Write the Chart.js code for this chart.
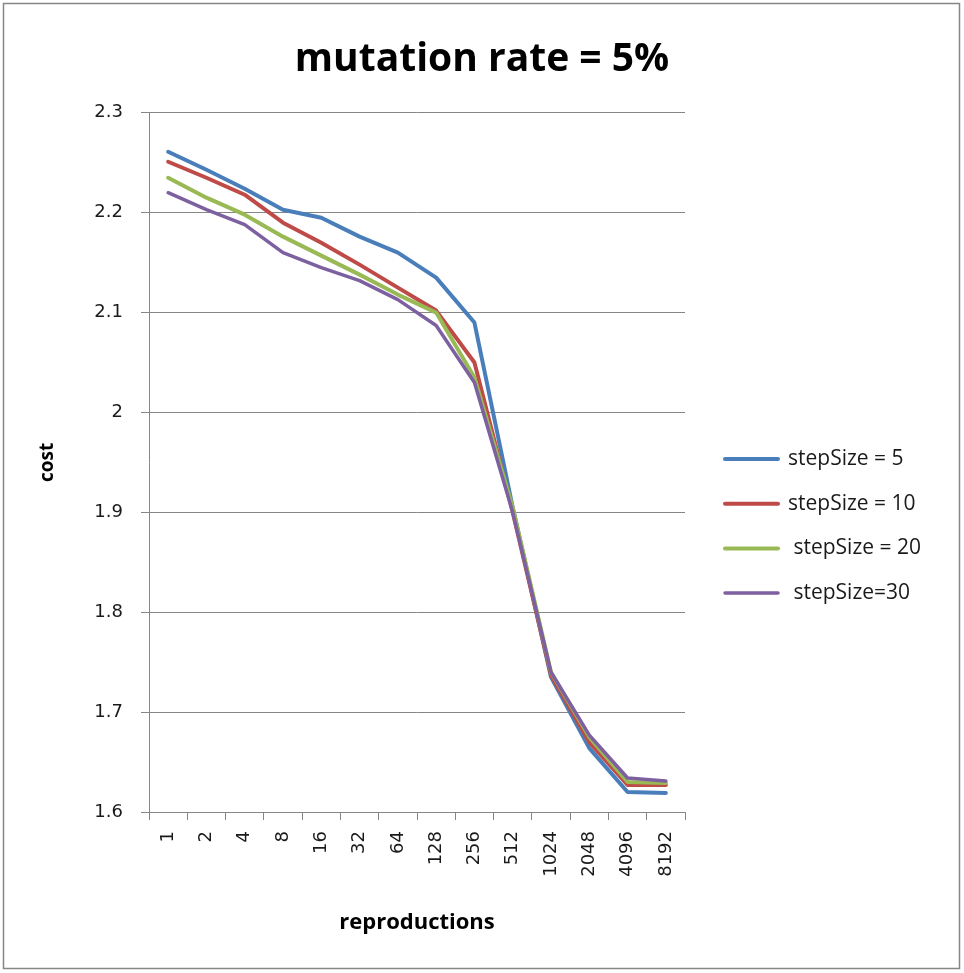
<!DOCTYPE html>
<html>
<head>
<meta charset="utf-8">
<script src="https://cdn.jsdelivr.net/npm/chart.js@4"></script>
<style>
  html, body { margin: 0; padding: 0; background: #fff; }
  #costChart { display: block; }
</style>
</head>
<body>
<canvas id="costChart" width="964" height="973"></canvas>
<script>
// ── Data ──────────────────────────────────────────────────────────────────────
const reproductions = ['1','2','4','8','16','32','64','128','256','512','1024','2048','4096','8192'];

const step5  = [2.261, 2.243, 2.224, 2.203, 2.195, 2.176, 2.160, 2.135, 2.090, 1.905, 1.735, 1.664, 1.620, 1.619];
const step10 = [2.251, 2.235, 2.218, 2.190, 2.170, 2.148, 2.125, 2.102, 2.050, 1.900, 1.737, 1.670, 1.627, 1.627];
const step20 = [2.235, 2.215, 2.198, 2.176, 2.157, 2.138, 2.118, 2.100, 2.035, 1.905, 1.740, 1.675, 1.630, 1.629];
const step30 = [2.220, 2.203, 2.188, 2.160, 2.145, 2.132, 2.113, 2.087, 2.030, 1.900, 1.740, 1.677, 1.634, 1.631];

const seriesLabels = ['stepSize = 5', 'stepSize = 10', ' stepSize = 20', ' stepSize=30'];
const COLORS = ['#4a7ebb', '#be4b48', '#98b954', '#7d60a0'];

const GRID = '#868686';
const TEXT = '#1a1a1a';

// ── Plugins ───────────────────────────────────────────────────────────────────
// white page + grey frame round the whole chart
const frame = {
  id: 'frame',
  beforeDraw(chart) {
    const ctx = chart.ctx;
    ctx.save();
    ctx.fillStyle = '#fff';
    ctx.fillRect(0, 0, chart.width, chart.height);
    ctx.strokeStyle = GRID;
    ctx.lineWidth = 1.5;
    ctx.strokeRect(3.5, 3.5, chart.width - 8, chart.height - 8);
    ctx.restore();
  }
};

// legend on the right: short line sample + label, one row per dataset
const sideLegend = {
  id: 'sideLegend',
  afterDraw(chart, args, opts) {
    const ctx = chart.ctx;
    ctx.save();
    ctx.font = opts.font;
    ctx.fillStyle = TEXT;
    ctx.textBaseline = 'middle';
    chart.data.datasets.forEach((ds, i) => {
      const y = opts.top + i * opts.rowGap;
      ctx.strokeStyle = ds.borderColor;
      ctx.lineWidth = ds.borderWidth;
      ctx.lineCap = 'round';
      ctx.beginPath();
      ctx.moveTo(opts.x, y);
      ctx.lineTo(opts.x + opts.lineLen, y);
      ctx.stroke();
      ctx.fillText(ds.label, opts.x + opts.lineLen + opts.gap, y);
    });
    ctx.restore();
  }
};

// ── Chart ─────────────────────────────────────────────────────────────────────
const series = [step5, step10, step20, step30];

new Chart(document.getElementById('costChart').getContext('2d'), {
  type: 'line',
  data: {
    labels: reproductions,
    datasets: series.map((data, i) => ({
      label: seriesLabels[i],
      data,
      borderColor: COLORS[i],
      backgroundColor: COLORS[i],
      borderWidth: i === 3 ? 3.5 : 4,
      pointRadius: 0,
      tension: 0,
      borderJoinStyle: 'round',
      borderCapStyle: 'round',
      order: 4 - i
    }))
  },
  options: {
    responsive: false,
    animation: false,
    layout: { padding: { left: 0, right: 0, top: 0, bottom: 31 } },
    plugins: {
      legend: { display: false },
      tooltip: { enabled: false },
      title: {
        display: true,
        text: 'mutation rate = 5%',
        color: '#000',
        font: { family: '"Open Sans"', size: 39, weight: 'bold' },
        padding: { top: 36, bottom: 30 }
      },
      sideLegend: {
        x: 725, top: 459, rowGap: 44.7, lineLen: 53, gap: 10,
        font: '21px "Open Sans"'
      }
    },
    scales: {
      x: {
        type: 'category',
        offset: true,
        afterFit: s => { s.height = 130; },
        grid: { display: true, offset: true, drawOnChartArea: false, color: GRID, tickLength: 8, tickColor: GRID },
        border: { color: GRID, width: 1 },
        ticks: {
          autoSkip: false, minRotation: 90, maxRotation: 90, padding: 11,
          color: TEXT, font: { family: '"DejaVu Sans"', size: 18 }
        },
        title: {
          display: true, text: 'reproductions', color: '#000',
          font: { family: '"Open Sans"', size: 22, weight: 'bold' },
          padding: { top: 0, bottom: 6 }
        }
      },
      y: {
        min: 1.6, max: 2.3,
        afterFit: s => { s.width = 149; },
        grid: { color: GRID, lineWidth: 1, tickLength: 8, tickColor: GRID },
        border: { color: GRID, width: 1 },
        ticks: {
          stepSize: 0.1, padding: 18, color: TEXT,
          font: { family: '"DejaVu Sans"', size: 18 },
          callback: v => String(Number(v.toFixed(1)))
        },
        title: {
          display: true, text: 'cost', color: '#000',
          font: { family: '"Open Sans"', size: 19, weight: 'bold' },
          padding: { top: 36, bottom: 0 }
        }
      },
      // empty right-hand axis that reserves the column the legend sits in
      legendSpace: {
        position: 'right',
        afterFit: s => { s.width = 279; },
        grid: { display: false, drawOnChartArea: false },
        border: { display: false },
        ticks: { display: false }
      }
    }
  },
  plugins: [frame, sideLegend]
});
</script>
</body>
</html>
